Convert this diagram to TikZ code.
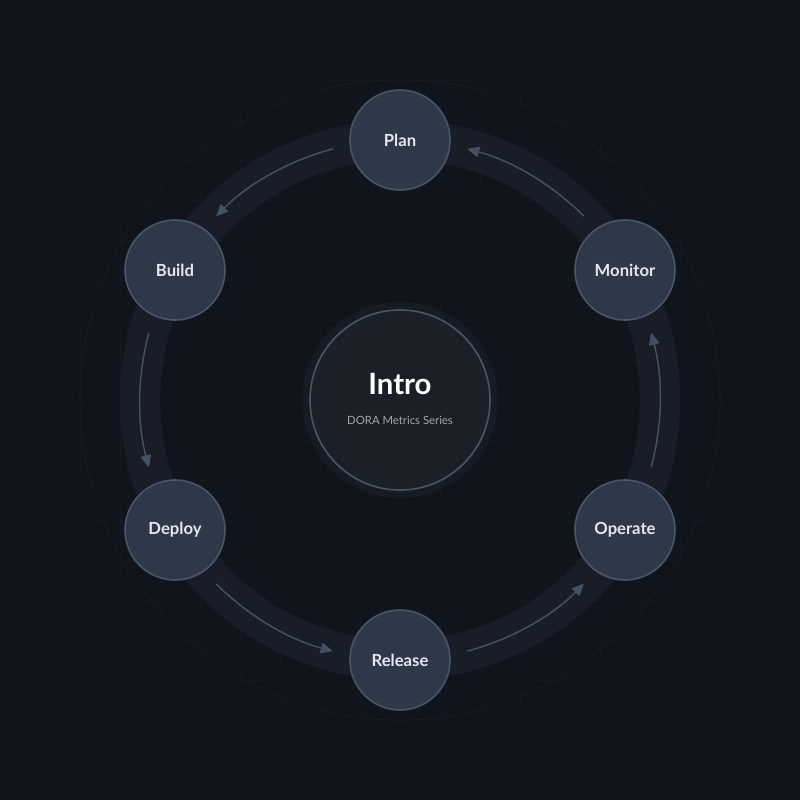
\documentclass[tikz,border=0pt]{standalone}
\usepackage{fontspec}
\setmainfont{Lato}
\usetikzlibrary{arrows.meta}
\definecolor{bg}{HTML}{10141C}
\definecolor{gridc}{HTML}{141820}
\definecolor{band}{HTML}{181D27}
\definecolor{nodefill}{HTML}{2F3849}
\definecolor{nodeedge}{HTML}{4A5568}
\definecolor{cfill}{HTML}{1B1F27}
\definecolor{arrc}{HTML}{475063}
\definecolor{txt}{HTML}{E2E8F0}
\tikzset{
  stage/.style={circle,fill=nodefill,draw=nodeedge,line width=1.2pt,minimum size=75pt,inner sep=0pt,text=txt,font=\bfseries\fontsize{12.5}{14}\selectfont},
  flow/.style={draw=arrc,line width=1.1pt,-{Triangle[length=9pt,width=8pt]}},
}
\begin{document}
\begin{tikzpicture}[x=0.75pt,y=-0.75pt]
\fill[bg] (0,0) rectangle (800,800);
\useasboundingbox (0,0) rectangle (800,800);
\foreach \i in {0,40,...,800}{
  \draw[gridc,line width=0.5pt] (\i,0) -- (\i,800);
  \draw[gridc,line width=0.5pt] (0,\i) -- (800,\i);
}
\coordinate (c) at (400,400);
\draw[color=band!90!gridc,line width=0.6pt] (c) circle[radius=320];
\draw[band,line width=30pt] (c) circle[radius=260];
\fill[cfill!60!bg] (c) circle[radius=98];
\node[circle,fill=cfill,draw=nodeedge,line width=1.2pt,minimum size=135pt,inner sep=0pt] (intro) at (c) {};
\node[text=white,font=\bfseries\fontsize{22}{24}\selectfont] (ttl) at (400,384) {Intro};
\node[text=gray!70,font=\fontsize{8.5}{10}\selectfont] (sub) at (400,420) {DORA Metrics Series};
\foreach \a in {90,30,-30,-90,-150,150}{
  \draw[flow] ([shift={(-\a-15:260)}]c) arc[start angle=-\a-15,end angle=-\a-45,radius=260];
}
\node[stage] (plan) at (400,140) {Plan};
\node[stage] (monitor) at (625,270) {Monitor};
\node[stage] (operate) at (625,530) {Operate};
\node[stage] (release) at (400,660) {Release};
\node[stage] (deploy) at (175,530) {Deploy};
\node[stage] (build) at (175,270) {Build};
\end{tikzpicture}
\end{document}
